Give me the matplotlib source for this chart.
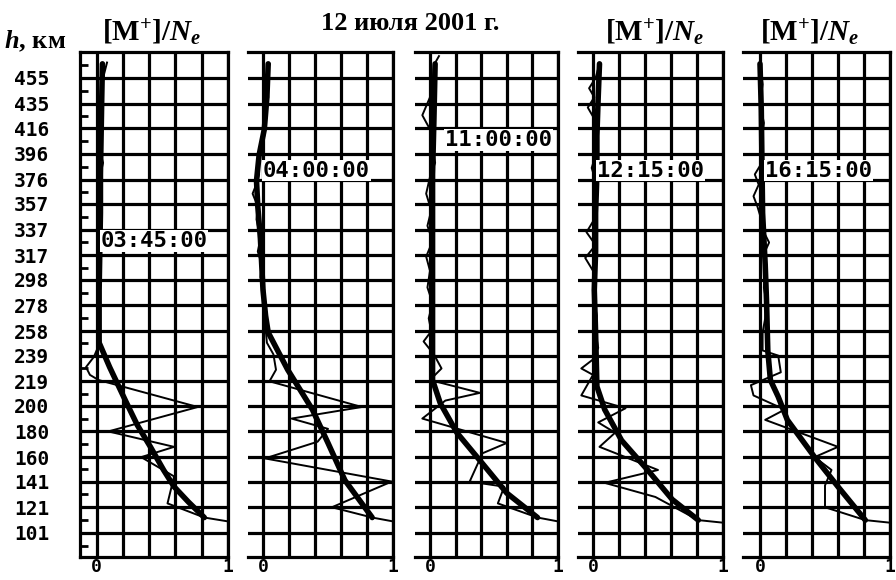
import numpy as np
import matplotlib
matplotlib.use('Agg')
import matplotlib.pyplot as plt

plt.rcParams['mathtext.fontset'] = 'custom'
plt.rcParams['mathtext.rm'] = 'Liberation Serif:bold'
plt.rcParams['mathtext.it'] = 'Liberation Serif:italic:bold'
plt.rcParams['mathtext.bf'] = 'Liberation Serif:bold'

# высоты (подписи оси)
h_ticks = [101, 121, 141, 160, 180, 200, 219, 239, 258, 278, 298, 317, 337,
           357, 376, 396, 416, 435, 455]
times = ['03:45:00', '04:00:00', '11:00:00', '12:15:00', '16:15:00']

# панель 1
h1_thick = [466, 440, 410, 380, 350, 320, 290, 260, 249, 230, 204, 185, 168, 150, 137, 125, 113]
x1_thick = [0.045, 0.04, 0.035, 0.03, 0.03, 0.025, 0.02, 0.02, 0.02, 0.10, 0.22, 0.31, 0.41, 0.51, 0.59, 0.70, 0.82]
h1_thin = [467, 455, 440, 428, 415, 400, 389, 378, 366, 355, 345, 338, 327, 318, 306, 295, 283, 272,
           260, 250, 238, 230, 224, 220, 199, 180, 168, 160, 145, 124, 113, 110]
x1_thin = [0.08, 0.05, 0.04, 0.02, 0.035, 0.02, 0.05, 0.025, 0.03, 0.02, 0.04, 0.02, 0.05, 0.015, 0.03, 0.01,
           0.025, 0.02, 0.015, 0.03, -0.02, -0.08, -0.05, 0.015, 0.77, 0.09, 0.59, 0.34, 0.59, 0.54, 0.82, 1.0]

# панель 2
h2_thick = [466, 440, 415, 395, 375, 355, 330, 310, 290, 270, 257, 228, 197, 171, 142, 113]
x2_thick = [0.04, 0.03, 0.01, -0.03, -0.05, -0.04, -0.02, -0.01, 0.0, 0.02, 0.04, 0.19, 0.38, 0.5, 0.63, 0.84]
h2_thin = [466, 455, 440, 425, 410, 400, 390, 380, 370, 365, 355, 345, 330, 320, 310, 300, 290, 280,
           270, 260, 249, 240, 228, 219, 199, 190, 182, 172, 159, 141, 121, 113, 110]
x2_thin = [0.05, 0.03, 0.04, 0.02, 0.01, -0.02, -0.04, -0.03, -0.06, -0.08, -0.04, -0.05, -0.02, -0.04,
           -0.01, -0.02, 0.01, 0.0, 0.03, 0.02, 0.03, 0.08, 0.10, 0.05, 0.76, 0.22, 0.5, 0.42, 0.015,
           0.99, 0.53, 0.84, 1.0]

# панель 3
h3_thick = [466, 420, 380, 340, 300, 260, 235, 220, 202, 179, 155, 132, 113]
x3_thick = [0.04, 0.03, 0.02, 0.02, 0.02, 0.02, 0.02, 0.02, 0.08, 0.21, 0.41, 0.6, 0.84]
h3_thin = [472, 465, 450, 440, 426, 415, 400, 389, 378, 365, 352, 340, 328, 316, 305, 292, 280, 268,
           258, 250, 240, 229, 220, 210, 204, 190, 171, 163, 141, 137, 124, 113, 110]
x3_thin = [0.07, 0.03, 0.02, 0.0, -0.06, 0.0, 0.02, 0.04, 0.0, -0.03, 0.01, -0.02, 0.02, -0.03, 0.0,
           -0.02, 0.02, -0.01, 0.01, -0.05, 0.03, 0.09, 0.0, 0.39, 0.12, -0.06, 0.6, 0.41, 0.31, 0.58,
           0.53, 0.84, 1.0]

# панель 4
h4_thick = [466, 440, 410, 380, 350, 320, 290, 257, 215, 197, 173, 150, 127, 111]
x4_thick = [0.05, 0.04, 0.03, 0.03, 0.02, 0.02, 0.01, 0.02, 0.03, 0.09, 0.22, 0.42, 0.61, 0.81]
h4_thin = [466, 455, 447, 440, 432, 425, 415, 405, 395, 385, 375, 365, 355, 345, 335, 325, 315, 305,
           295, 285, 270, 257, 245, 236, 229, 224, 208, 198, 187, 179, 168, 150, 140, 129, 111, 109]
x4_thin = [0.05, 0.02, -0.03, 0.01, -0.04, 0.0, 0.03, 0.0, 0.02, -0.01, 0.02, 0.0, 0.03, 0.01, -0.05,
           0.02, -0.06, 0.0, 0.02, 0.0, 0.03, 0.02, 0.04, 0.0, -0.09, 0.0, -0.09, 0.25, 0.04, 0.17,
           0.05, 0.5, 0.09, 0.48, 0.81, 1.0]

# панель 5
h5_thick = [466, 430, 390, 350, 310, 282, 243, 220, 207, 189, 160, 137, 111]
x5_thick = [0.0, 0.01, 0.015, 0.02, 0.04, 0.05, 0.06, 0.08, 0.14, 0.21, 0.42, 0.6, 0.81]
h5_thin = [466, 450, 435, 420, 405, 390, 380, 372, 363, 355, 345, 335, 327, 318, 305, 292, 280, 268,
           257, 243, 239, 226, 216, 208, 197, 189, 168, 160, 150, 138, 121, 111, 109]
x5_thin = [0.0, 0.02, 0.0, 0.03, 0.01, 0.02, -0.04, -0.01, -0.05, -0.02, 0.01, 0.03, 0.07, 0.03, 0.04,
           0.03, 0.05, 0.04, 0.02, 0.02, 0.14, 0.16, -0.07, -0.05, 0.19, 0.04, 0.6, 0.42, 0.55, 0.5,
           0.5, 0.81, 1.0]

thick = [(h1_thick, x1_thick), (h2_thick, x2_thick), (h3_thick, x3_thick),
         (h4_thick, x4_thick), (h5_thick, x5_thick)]
thin = [(h1_thin, x1_thin), (h2_thin, x2_thin), (h3_thin, x3_thin),
        (h4_thin, x4_thin), (h5_thin, x5_thin)]

# положение панелей в пикселях
W, H = 896, 580
edges = [(80, 228), (248, 393), (415, 558), (578, 723), (743, 890)]
zero_px = [96.5, 263, 430, 593, 760]
top, bottom = 52, 557
label_pos = [(0.03, 328), (0.0, 383), (0.12, 407), (0.03, 383), (0.04, 383)]

mono = 'DejaVu Sans Mono'
fig = plt.figure(figsize=(W / 100, H / 100), dpi=100)

for i in range(5):
    l, r = edges[i]
    ax = fig.add_axes([l / W, 1 - bottom / H, (r - l) / W, (bottom - top) / H])
    ax.set_xlim(-(zero_px[i] - l) / (r - zero_px[i]), 1.0)
    ax.set_ylim(82.3, 475.2)

    ax.set_xticks([0, 0.2, 0.4, 0.6, 0.8, 1.0])
    ax.set_xticklabels(['0', '', '', '', '', '1'], family=mono, weight='bold', fontsize=13)
    ax.set_yticks(h_ticks)
    ax.grid(True, color='black', linewidth=2.3)
    ax.tick_params(axis='x', length=0, pad=1)

    for s in ['top', 'bottom', 'right', 'left']:
        ax.spines[s].set_linewidth(2.3)
    if i == 0:
        ax.set_yticklabels([str(v) for v in h_ticks], family=mono, weight='bold', fontsize=14)
        ax.tick_params(axis='y', length=0, pad=22)
        mids = [h_ticks[0] - 10] + [(a + b) / 2 for a, b in zip(h_ticks[:-1], h_ticks[1:])] + [h_ticks[-1] + 10]
        ax.set_yticks(mids, minor=True)
        ax.tick_params(axis='y', which='minor', direction='in', length=6, width=2)
    else:
        ax.spines['left'].set_visible(False)
        ax.tick_params(axis='y', left=False, labelleft=False)

    ax.plot(thin[i][1], thin[i][0], color='black', lw=1.4, zorder=3)
    ax.plot(thick[i][1], thick[i][0], color='black', lw=4, zorder=4,
            solid_joinstyle='round', solid_capstyle='round')

    ax.text(label_pos[i][0], label_pos[i][1], times[i], family=mono, weight='bold',
            fontsize=16, ha='left', va='center', zorder=5,
            bbox=dict(facecolor='white', edgecolor='none', pad=0.6))

# подписи сверху
head = r'[M$^{+}$]/$N_{e}$'
for cx in [152, 655, 810]:
    fig.text(cx / W, 1 - 42 / H, head, family='Liberation Serif', weight='bold',
             fontsize=21, ha='center', va='baseline')
fig.text(410 / W, 1 - 30 / H, '12 июля 2001 г.', family='Liberation Serif',
         weight='bold', fontsize=19, ha='center', va='baseline')
fig.text(4 / W, 1 - 48 / H, r'$h$, км', family='Liberation Serif', weight='bold',
         fontsize=19, ha='left', va='baseline')

fig.savefig('out.png', dpi=100, facecolor='white')
